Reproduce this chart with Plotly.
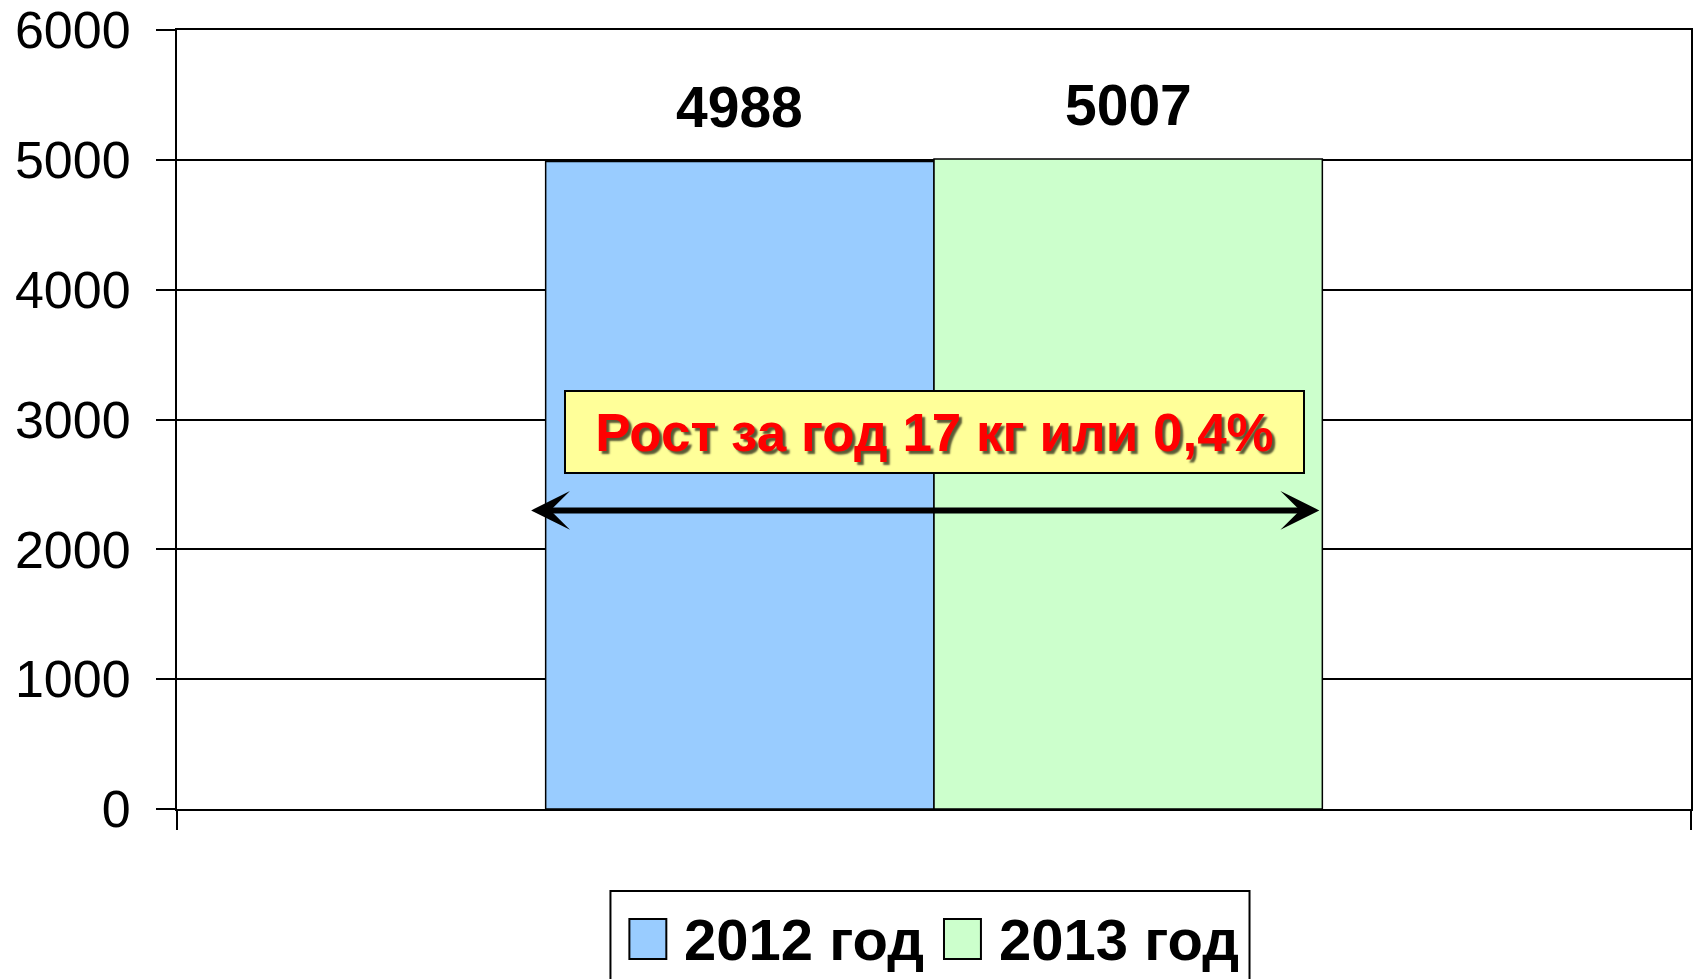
import plotly.graph_objects as go

# ---- data ----
categories = ["Показатель"]
series_names = ["2012 год", "2013 год"]
values_2012 = [4988]
values_2013 = [5007]
series_colors = ["#99CCFF", "#CCFFCC"]
y_ticks = [0, 1000, 2000, 3000, 4000, 5000, 6000]
callout_text = "Рост за год 17 кг или 0,4%"
callout_value = 2900
arrow_value = 2300

FONT = "Liberation Sans, Arial, sans-serif"
BARGAP = 0.487

fig = go.Figure()
for name, vals, col in zip(series_names, [values_2012, values_2013], series_colors):
    fig.add_trace(go.Bar(
        x=categories, y=vals, name=name,
        marker=dict(color=col, line=dict(color="#000000", width=1.5)),
        showlegend=False, hoverinfo="y",
    ))

annotations = []
# value labels above bars
offset = (1 - BARGAP) / 4
for i, vals in enumerate([values_2012, values_2013]):
    xpos = -offset if i == 0 else offset
    annotations.append(dict(
        x=xpos, y=vals[0], xref="x", yref="y", text=f"<b>{vals[0]}</b>",
        showarrow=False, yanchor="bottom", yshift=20,
        font=dict(family=FONT, size=57, color="#000000"),
    ))

# callout box
annotations.append(dict(
    x=0.5, y=callout_value, xref="paper", yref="y",
    text=f"<b>{callout_text}</b>", showarrow=False,
    font=dict(family=FONT, size=53, color="#FF0000",
              shadow="3px 3px 2px rgba(0,0,0,0.65)"),
    bgcolor="#FFFF99", bordercolor="#000000", borderwidth=2, borderpad=1,
    width=735, height=78, align="center", valign="middle",
))

# double-headed arrow
half = (1 - BARGAP) / 2
annotations.append(dict(
    x=half - 0.002, y=arrow_value, xref="x", yref="y",
    ax=-half - 0.0106, ay=arrow_value, axref="x", ayref="y",
    text="", showarrow=True, arrowhead=3, arrowside="end+start",
    arrowwidth=6, arrowsize=1.08, arrowcolor="#000000",
    standoff=0, startstandoff=0,
))

# custom legend (frame, swatches, labels)
shapes = [dict(type="rect", xref="paper", yref="paper",
               x0=0.2863, x1=0.7084, y0=-0.26, y1=-0.1053,
               line=dict(color="#000000", width=2), fillcolor="rgba(0,0,0,0)")]
leg_sw_x = [0.2988, 0.5066]
leg_tx_x = [0.3338, 0.5416]
for name, col, sx, tx in zip(series_names, series_colors, leg_sw_x, leg_tx_x):
    shapes.append(dict(type="rect", xref="paper", yref="paper",
                       x0=sx, x1=sx + 0.0244, y0=-0.1926, y1=-0.1412,
                       line=dict(color="#000000", width=2), fillcolor=col))
    annotations.append(dict(x=tx, y=-0.1669, xref="paper", yref="paper",
                            xanchor="left", yanchor="middle", showarrow=False,
                            text=f"<b>{name}</b>",
                            font=dict(family=FONT, size=58, color="#000000")))

fig.update_layout(
    width=1694, height=979,
    margin=dict(l=177, r=1, t=30, b=170),
    paper_bgcolor="#FFFFFF", plot_bgcolor="#FFFFFF",
    barmode="group", bargap=BARGAP, bargroupgap=0,
    annotations=annotations, shapes=shapes,
    showlegend=False,
    xaxis=dict(showticklabels=False, showgrid=False, showline=True,
               linecolor="#000000", linewidth=2, mirror=True,
               ticks="outside", ticklen=19, tickwidth=2, tickcolor="#000000",
               tickson="boundaries", zeroline=False),
    yaxis=dict(range=[0, 6000], tickvals=y_ticks, showgrid=True,
               gridcolor="#000000", gridwidth=2, showline=True,
               linecolor="#000000", linewidth=2, mirror=True,
               ticks="outside", ticklen=19, tickwidth=2, tickcolor="#000000",
               zeroline=False, ticklabelstandoff=15,
               tickfont=dict(family=FONT, size=52, color="#000000")),
)

fig.write_html("out.html", config={"displayModeBar": False},
               post_script="document.body.style.margin='0';document.body.style.overflow='hidden';")
